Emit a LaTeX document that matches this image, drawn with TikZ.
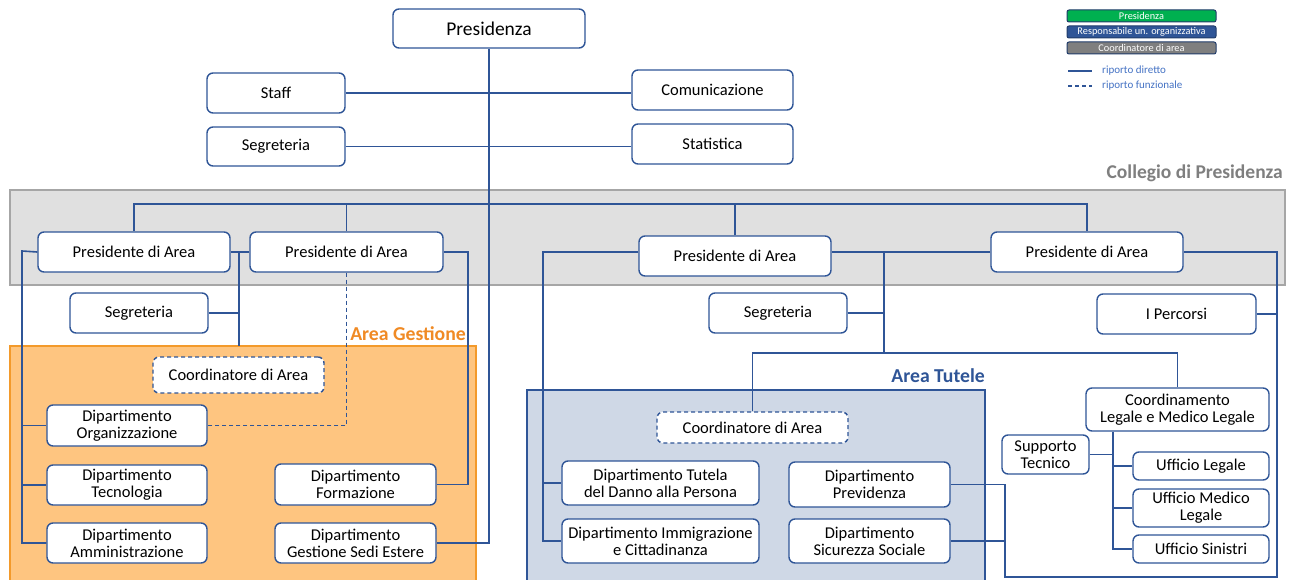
\documentclass[tikz,border=0pt]{standalone}
\usepackage{fontspec}
\setmainfont{Carlito}
\definecolor{bblue}{HTML}{2F5597}
\definecolor{lblue}{HTML}{4472C4}
\definecolor{greyfill}{HTML}{E0E0E0}
\definecolor{greyline}{HTML}{A6A6A6}
\definecolor{greytext}{HTML}{7F7F7F}
\definecolor{orfill}{HTML}{FEC580}
\definecolor{orline}{HTML}{F39A2B}
\definecolor{ortext}{HTML}{F08A24}
\definecolor{blfill}{HTML}{CFD8E6}
\definecolor{legreen}{HTML}{00B050}
\pgfdeclarelayer{bg}
\pgfdeclarelayer{lines}
\pgfsetlayers{bg,lines,main}
\tikzset{
  box/.style={draw=bblue, line width=1.4pt, rounded corners=6pt, fill=white, align=center,
    inner sep=0pt, font=\fontsize{16.5}{17}\selectfont},
  dbox/.style={box, dash pattern=on 4pt off 3pt},
  conn/.style={draw=bblue, line width=1.6pt},
  fconn/.style={conn, dash pattern=on 4pt off 3pt},
  lbox/.style={draw=bblue!70!black, line width=1pt, rounded corners=2pt, inner sep=0pt,
    text=white, font=\fontsize{10.3}{11}\selectfont},
  ltext/.style={text=lblue, anchor=west, inner sep=0pt, font=\fontsize{11}{12}\selectfont},
}
\newcommand\bx[7][]{\node[box,#1,minimum width={(#4-#2)*1pt},minimum height={(#5-#3)*1pt}] (#6) at ({(#2+#4)/2},{-(#3+#5)/2}) {#7};}
\newcommand\lb[6]{\node[lbox,fill=#5,minimum width={(#3-#1)*1pt},minimum height={(#4-#2)*1pt}] (#6) at ({(#1+#3)/2},{-(#2+#4)/2}) {};}
\begin{document}
\begin{tikzpicture}[x=1pt,y=1pt]
\useasboundingbox (0,0) rectangle (1289,-580);
% backgrounds
\begin{pgfonlayer}{bg}
\fill[white] (0,0) rectangle (1289,-580);
\draw[fill=greyfill, draw=greyline, line width=1.3pt] (10,-190) rectangle (1285,-285);
\draw[fill=orfill, draw=orline, line width=1.3pt] (10,-346) rectangle (476,-590);
\draw[fill=blfill, draw=bblue, line width=1.3pt] (527,-390) rectangle (985,-590);
\end{pgfonlayer}
\node[anchor=east, inner sep=0pt, text=greytext, font=\fontsize{19.5}{21}\selectfont\bfseries] (lcp) at (1283,-173) {Collegio di Presidenza};
\node[anchor=east, inner sep=0pt, text=ortext, font=\fontsize{19.7}{21}\selectfont\bfseries] (lag) at (466,-334) {Area Gestione};
\node[anchor=east, inner sep=0pt, text=bblue, font=\fontsize{19.7}{21}\selectfont\bfseries] (lat) at (985,-376) {Area Tutele};
% boxes
\bx[font=\fontsize{19.5}{21}\selectfont]{393}{9}{585}{48}{pres}{Presidenza}
\bx{207}{73}{345}{113}{staff}{Staff}
\bx{207}{127}{345}{166}{segP}{Segreteria}
\bx{632}{70}{793}{110}{comm}{Comunicazione}
\bx{632}{124}{793}{164}{stat}{Statistica}
\bx{38}{232}{230}{272}{p1}{Presidente di Area}
\bx{250}{232}{443}{272}{p2}{Presidente di Area}
\bx{639}{236}{831}{276}{p3}{Presidente di Area}
\bx{991}{232}{1183}{272}{p4}{Presidente di Area}
\bx{70}{293}{208}{333}{segL}{Segreteria}
\bx[dbox]{153}{357}{324}{393}{coL}{Coordinatore di Area}
\bx{47}{405}{207}{446}{org}{Dipartimento\\Organizzazione}
\bx{47}{465}{207}{505}{tec}{Dipartimento\\Tecnologia}
\bx{47}{523}{207}{563}{amm}{Dipartimento\\Amministrazione}
\bx{275}{464}{436}{505}{form}{Dipartimento\\Formazione}
\bx{275}{523}{436}{563}{gse}{Dipartimento\\Gestione Sedi Estere}
\bx{709}{293}{847}{333}{segR}{Segreteria}
\bx[dbox]{657}{412}{848}{443}{coR}{Coordinatore di Area}
\bx{562}{461}{759}{505}{tut}{Dipartimento Tutela\\del Danno alla Persona}
\bx{562}{519}{759}{563}{imm}{Dipartimento Immigrazione\\e Cittadinanza}
\bx{789}{462}{950}{507}{prev}{Dipartimento\\Previdenza}
\bx{789}{519}{950}{563}{sic}{Dipartimento\\Sicurezza Sociale}
\bx{1097}{294}{1256}{334}{perc}{I Percorsi}
\bx{1086}{388}{1269}{431}{cord}{Coordinamento\\Legale e Medico Legale}
\bx{1002}{435}{1089}{474}{sup}{Supporto\\Tecnico}
\bx{1133}{452}{1269}{480}{uleg}{Ufficio Legale}
\bx{1133}{489}{1269}{527}{umed}{Ufficio Medico\\Legale}
\bx{1133}{535}{1269}{563}{usin}{Ufficio Sinistri}
% legend
\lb{1067}{10}{1216}{22}{legreen}{lg1}
\node[text=white, inner sep=0pt, font=\fontsize{10.3}{11}\selectfont] (lgt1) at (lg1) {Presidenza};
\lb{1067}{26}{1216}{38}{bblue}{lg2}
\node[text=white, inner sep=0pt, font=\fontsize{10.3}{11}\selectfont] (lgt2) at (lg2) {Responsabile un. organizzativa};
\lb{1067}{42}{1216}{54}{greytext}{lg3}
\node[text=white, inner sep=0pt, font=\fontsize{10.3}{11}\selectfont] (lgt3) at (lg3) {Coordinatore di area};
\coordinate (ls1) at (1068,-71);
\coordinate (le1) at (1092,-71);
\coordinate (ls2) at (1068,-86);
\coordinate (le2) at (1092,-86);
\node[ltext] (lt1) at (1102,-71) {riporto diretto};
\node[ltext] (lt2) at (1102,-86) {riporto funzionale};
% coordinates
\coordinate (hb) at (0,-204);
\coordinate (L1) at (22,-251);
\coordinate (j1) at (239,-251);
\coordinate (j1b) at (239,-346);
\coordinate (r2) at (468,0);
\coordinate (L3) at (543,0);
\coordinate (j3) at (884,0);
\coordinate (h3) at (884,-353);
\coordinate (R1) at (1005,-577);
\coordinate (R2) at (1277,-577);
\coordinate (cx) at (1113,0);
\begin{pgfonlayer}{lines}
\draw[conn, line width=1.3pt] (ls1) -- (le1);
\draw[fconn, line width=1.3pt] (ls2) -- (le2);
% presidenza
\draw[conn] (pres.south) |- (gse.east);
\draw[conn] (staff.east) -- (staff.east -| comm.west);
\draw[conn] (segP.east) -- (segP.east -| stat.west);
% collegio
\draw[conn] (p1.north) |- (hb -| p4.north) -- (p4.north);
\draw[conn] (p2.north) -- (p2.north |- hb);
\draw[conn] (p3.north) -- (p3.north |- hb);
% area gestione
\draw[conn] (p1.west) -- (L1) |- (amm.west);
\draw[conn] (L1 |- org.west) -- (org.west);
\draw[conn] (L1 |- tec.west) -- (tec.west);
\draw[conn] (p1.east) -- (p2.west);
\draw[conn] (j1) -- (j1b);
\draw[conn] (segL.east) -- (segL.east -| j1);
\draw[fconn] (p2.south) |- (org.east);
\draw[conn] (p2.east) -- (p2.east -| r2) |- (form.east);
% area tutele
\draw[conn] (p3.west |- p4.west) -- (L3 |- p4.west) |- (imm.west);
\draw[conn] (L3 |- tut.west) -- (tut.west);
\draw[conn] (p4.west) -- (p4.west -| p3.east);
\draw[conn] (j3 |- p4.west) -- (h3);
\draw[conn] (segR.east) -- (segR.east -| j3);
\draw[conn] (coR.north) |- (h3) -| (cord.north);
\draw[conn] (prev.east) -| (R1) -- (R2) |- (p4.east);
\draw[conn] (sic.east) -- (sic.east -| R1);
\draw[conn] (perc.east) -- (perc.east -| R2);
\draw[conn] (cord.south -| cx) |- (usin.west);
\draw[conn] (sup.east) -- (sup.east -| cx);
\draw[conn] (uleg.west) -- (uleg.west -| cx);
\draw[conn] (umed.west) -- (umed.west -| cx);
\end{pgfonlayer}
\end{tikzpicture}
\end{document}
